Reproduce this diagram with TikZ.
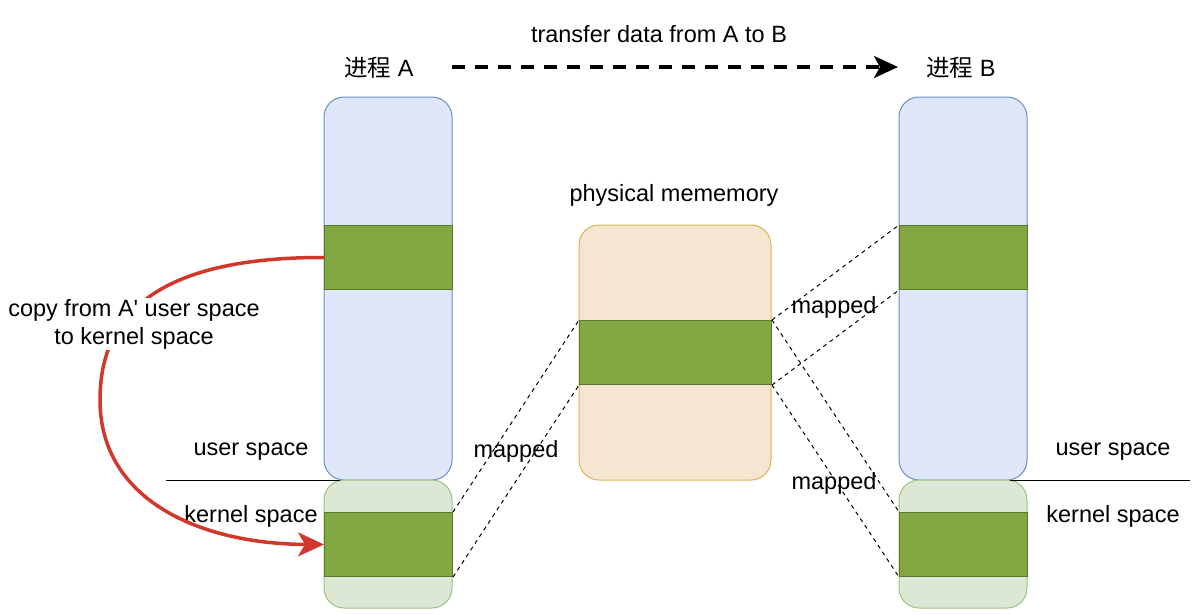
\documentclass[tikz,border=0pt]{standalone}
\usepackage{fontspec}
\setmainfont{Liberation Sans}
\newfontfamily\cjk{Noto Sans CJK SC}
\usetikzlibrary{arrows.meta}
\definecolor{ublue}{HTML}{DFE7F8}
\definecolor{ubluestroke}{HTML}{6C8EBF}
\definecolor{kgreen}{HTML}{DCE8D5}
\definecolor{kgreenstroke}{HTML}{9BC27F}
\definecolor{dgreen}{HTML}{83A842}
\definecolor{dgreenstroke}{HTML}{557A2A}
\definecolor{mem}{HTML}{F6E6D1}
\definecolor{memstroke}{HTML}{D6B45A}
\definecolor{redarrow}{HTML}{D1382B}
\tikzset{
  txt/.style={font=\fontsize{23.5}{28}\selectfont, inner sep=0pt},
  userbox/.style={draw=ubluestroke, fill=ublue, line width=1pt, rounded corners=20pt},
  kernbox/.style={draw=kgreenstroke, fill=kgreen, line width=1pt, rounded corners=20pt},
  membox/.style={draw=memstroke, fill=mem, line width=1pt, rounded corners=20pt},
  band/.style={draw=dgreenstroke, fill=dgreen, line width=1pt},
  mapline/.style={draw=black, dashed, dash pattern=on 4pt off 4pt, line width=1pt},
}
\begin{document}
\begin{tikzpicture}[x=1pt,y=-1pt]
\useasboundingbox (0,0) rectangle (1203,614);
% Process A
\path[userbox] (324,97) rectangle (452,480);
\path[kernbox] (324,480) rectangle (452,608);
\node[band, minimum width=128pt, minimum height=64pt, inner sep=0pt, anchor=north west] (aband) at (324,225) {};
\node[band, minimum width=128pt, minimum height=64pt, inner sep=0pt, anchor=north west] (akband) at (324,512) {};
% Process B
\path[userbox] (899,97) rectangle (1027,480);
\path[kernbox] (899,480) rectangle (1027,608);
\node[band, minimum width=128pt, minimum height=64pt, inner sep=0pt, anchor=north west] (bband) at (899,225) {};
\node[band, minimum width=128pt, minimum height=64pt, inner sep=0pt, anchor=north west] (bkband) at (899,512) {};
% Memory
\path[membox] (579,225) rectangle (771,480);
\node[band, minimum width=192pt, minimum height=64pt, inner sep=0pt, anchor=north west] (mband) at (579,320) {};
% titles
\node[txt] (ta) at (379,68) {{\cjk 进程} A};
\node[txt] (tb) at (961,68) {{\cjk 进程} B};
\node[txt] (tr) at (659,34) {transfer data from A to B};
\node[txt] (pm) at (674,195) {physical mememory};
\coordinate (as) at (452,67);
\coordinate (ae) at (898,67);
\draw[line width=3.5pt, dash pattern=on 13pt off 10pt, -{Stealth[width=22pt,length=24pt,inset=6pt]}] (as) -- (ae);
% separators
\coordinate (la) at (166,480);
\coordinate (ra) at (340,480);
\draw[line width=1pt] (la) -- (ra);
\coordinate (lb) at (1010,480);
\coordinate (rb) at (1190,480);
\draw[line width=1pt] (lb) -- (rb);
\node[txt] (usa) at (251,452) {user space};
\node[txt] (ksa) at (251,516) {kernel space};
\node[txt] (usb) at (1113,452) {user space};
\node[txt] (ksb) at (1113,516) {kernel space};
% mapped lines
\draw[mapline] (akband.north east) -- (mband.north west);
\draw[mapline] (akband.south east) -- (mband.south west);
\draw[mapline] (mband.north east) -- (bband.north west);
\draw[mapline] (mband.south east) -- (bband.south west);
\draw[mapline] (mband.north east) -- (bkband.north west);
\draw[mapline] (mband.south east) -- (bkband.south west);
\node[txt] (m1) at (516,451) {mapped};
\node[txt] (m2) at (834,307) {mapped};
\node[txt] (m3) at (834,483) {mapped};
% copy arrow
\draw[redarrow, line width=3.5pt, -{Stealth[width=24pt,length=26pt,inset=7pt]}] (aband.west) .. controls (150,257) and (100,320) .. (100,400) .. controls (100,500) and (200,544) .. (akband.west);
\node[txt, align=center, fill=white, inner sep=1pt] (cp) at (134,324) {copy from A\textquotesingle{} user space\\to kernel space};
\end{tikzpicture}
\end{document}
